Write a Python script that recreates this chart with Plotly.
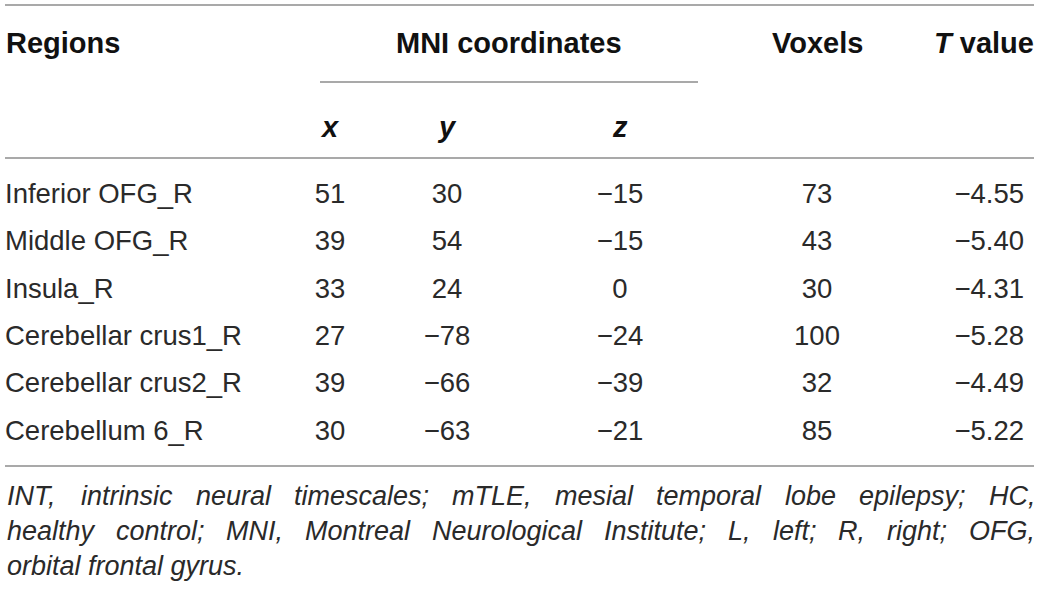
import plotly.graph_objects as go

# Datos de la tabla
regions = ["Inferior OFG_R", "Middle OFG_R", "Insula_R",
           "Cerebellar crus1_R", "Cerebellar crus2_R", "Cerebellum 6_R"]
mni_x = [51, 39, 33, 27, 39, 30]
mni_y = [30, 54, 24, -78, -66, -63]
mni_z = [-15, -15, 0, -24, -39, -21]
voxels = [73, 43, 30, 100, 32, 85]
t_value = [-4.55, -5.40, -4.31, -5.28, -4.49, -5.22]

footnote = [
    "INT, intrinsic neural timescales; mTLE, mesial temporal lobe epilepsy; HC,",
    "healthy control; MNI, Montreal Neurological Institute; L, left; R, right; OFG,",
    "orbital frontal gyrus.",
]

W, H = 1040, 589
FONT = "Liberation Sans, Arial, sans-serif"
TXT = "#2a2a2a"
LINE = "#8c8c8c"
BODY_SIZE = 27.5
HEAD_SIZE = 29
NOTE_SIZE = 27

# posiciones de columnas / filas (layout)
col_reg, col_x, col_y, col_z, col_vox, col_t = 7, 330, 447, 620, 817, 1022
row0, pitch = 196, 47.4
rows = [row0 + i * pitch for i in range(len(regions))]
left, right = 6, 1034

# anchos aproximados (Helvetica/Arial, por 1000 em) para justificar la nota
_w = dict(zip("abcdefghijklmnopqrstuvwxyz",
              [556, 556, 500, 556, 556, 278, 556, 556, 222, 222, 500, 222, 833,
               556, 556, 556, 556, 333, 500, 278, 556, 500, 722, 500, 500, 500]))
_w.update(zip("ABCDEFGHIJKLMNOPQRSTUVWXYZ",
              [667, 667, 722, 722, 667, 611, 778, 722, 278, 500, 667, 556, 833,
               722, 778, 667, 778, 722, 667, 611, 722, 667, 944, 667, 667, 611]))
_w.update({",": 278, ".": 278, ";": 278, " ": 278})


def text_width(s, size):
    return sum(_w.get(c, 556) for c in s) * size / 1000


def fmt(v, dec=0):
    s = f"{abs(v):.{dec}f}"
    return ("\u2212" + s) if v < 0 else s


def col(xpos, vals, pos):
    return go.Scatter(
        x=[xpos] * len(vals), y=rows, text=vals, mode="text",
        textposition=pos, hoverinfo="skip", showlegend=False,
        textfont=dict(family=FONT, size=BODY_SIZE, color=TXT),
    )


fig = go.Figure([
    col(col_reg - 2, regions, "middle right"),
    col(col_x, [fmt(v) for v in mni_x], "middle center"),
    col(col_y, [fmt(v) for v in mni_y], "middle center"),
    col(col_z, [fmt(v) for v in mni_z], "middle center"),
    col(col_vox, [fmt(v) for v in voxels], "middle center"),
    col(col_t + 2, [fmt(v, 2) for v in t_value], "middle left"),
])

# encabezados
hdr = dict(font=dict(family=FONT, size=HEAD_SIZE, color="#111"), showarrow=False,
           xref="x", yref="y")
fig.add_annotation(x=col_reg - 3, y=43, text="<b>Regions</b>", xanchor="left", **hdr)
fig.add_annotation(x=509, y=43, text="<b>MNI coordinates</b>", xanchor="center", **hdr)
fig.add_annotation(x=col_vox, y=43, text="<b>Voxels</b>", xanchor="center", **hdr)
fig.add_annotation(x=1036, y=43, text="<b><i>T</i> value</b>", xanchor="right", **hdr)
for xp, lab in [(col_x, "x"), (col_y, "y"), (col_z, "z")]:
    fig.add_annotation(x=xp, y=127, text=f"<b><i>{lab}</i></b>", xanchor="center", **hdr)

# nota al pie (justificada salvo la última línea)
note = dict(showarrow=False, xref="x", yref="y", xanchor="left",
            font=dict(family=FONT, size=NOTE_SIZE, color=TXT))
for i, line in enumerate(footnote):
    yy = 496 + i * 35
    words = line.split(" ")
    if i == len(footnote) - 1 or len(words) < 2:
        fig.add_annotation(x=left - 1, y=yy, text=f"<i>{line}</i>", **note)
        continue
    widths = [text_width(wd, NOTE_SIZE) for wd in words]
    gap = (right - left - sum(widths)) / (len(words) - 1)
    xx = left
    for wd, ww in zip(words, widths):
        fig.add_annotation(x=xx - 1, y=yy, text=f"<i>{wd}</i>", **note)
        xx += ww + gap

# líneas de la tabla
for y0, xa, xb in [(5, 5, 1034), (82, 320, 698), (158, 5, 1034), (466, 5, 1034)]:
    fig.add_shape(type="line", x0=xa, x1=xb, y0=y0, y1=y0, xref="x", yref="y",
                  line=dict(color=LINE, width=1.6))

fig.update_xaxes(range=[0, W], visible=False, fixedrange=True)
fig.update_yaxes(range=[H, 0], visible=False, fixedrange=True)
fig.update_layout(
    width=W, height=H,
    margin=dict(l=0, r=0, t=0, b=0),
    plot_bgcolor="white", paper_bgcolor="white",
)

fig.write_html("out.html", config={"displayModeBar": False},
               post_script="document.body.style.margin='0';")
